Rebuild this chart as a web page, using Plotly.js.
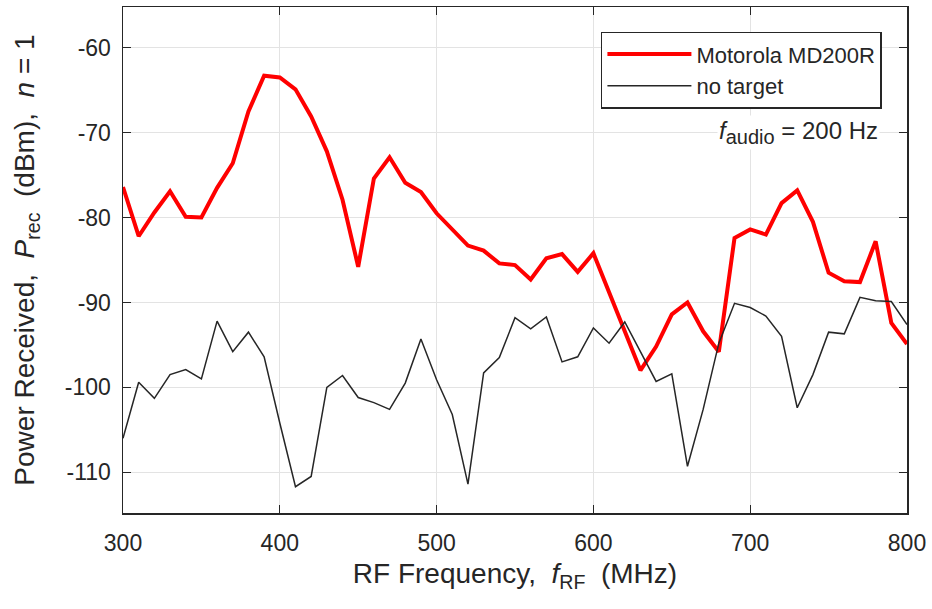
<!DOCTYPE html>
<html>
<head>
<meta charset="utf-8">
<script src="https://cdn.plot.ly/plotly-3.0.1.min.js"></script>
<style>html,body{margin:0;padding:0;background:#fff;}#chart{width:932px;height:609px;}</style>
</head>
<body>
<div id="chart"></div>
<script>
const freqMHz = [300,310,320,330,340,350,360,370,380,390,400,410,420,430,440,450,460,470,480,490,500,510,520,530,540,550,560,570,580,590,600,610,620,630,640,650,660,670,680,690,700,710,720,730,740,750,760,770,780,790,800];
const motorolaDbm = [-76.4,-82.2,-79.4,-76.9,-79.9,-80.0,-76.5,-73.6,-67.5,-63.3,-63.5,-64.9,-68.1,-72.2,-77.9,-85.8,-75.4,-72.9,-75.9,-77.0,-79.5,-81.4,-83.3,-83.9,-85.4,-85.6,-87.3,-84.8,-84.3,-86.4,-84.2,-88.8,-93.4,-98.0,-95.2,-91.4,-90.0,-93.4,-95.8,-82.4,-81.4,-82.0,-78.3,-76.8,-80.5,-86.5,-87.5,-87.6,-82.8,-92.4,-94.9];
const noTargetDbm = [-106.0,-99.4,-101.3,-98.5,-97.9,-99.0,-92.2,-95.8,-93.5,-96.4,-104.2,-111.7,-110.5,-100.0,-98.6,-101.2,-101.8,-102.6,-99.5,-94.3,-99.1,-103.2,-111.4,-98.3,-96.5,-91.8,-93.1,-91.7,-97.0,-96.4,-93.0,-94.8,-92.3,-95.8,-99.3,-98.4,-109.3,-102.6,-94.8,-90.1,-90.6,-91.6,-94.0,-102.4,-98.5,-93.5,-93.7,-89.4,-89.8,-89.9,-92.6];
const seriesNames = ["Motorola MD200R", "no target"];
const xTickVals = [300,400,500,600,700,800];
const xTickText = ["300","400","500","600","700","800"];
const yTickVals = [-110,-100,-90,-80,-70,-60];
const yTickText = ["-110","-100","-90","-80","-70","-60"];

const axisColor = '#262626';
const fontFam = 'Liberation Sans, Arial, Helvetica, sans-serif';

const traces = [
  {x: freqMHz, y: motorolaDbm, name: seriesNames[0], type: 'scatter', mode: 'lines',
   line: {color: '#ff0000', width: 4}},
  {x: freqMHz, y: noTargetDbm, name: seriesNames[1], type: 'scatter', mode: 'lines',
   line: {color: '#262626', width: 1.5}}
];

const layout = {
  width: 932, height: 609,
  margin: {l: 123, r: 25, t: 7, b: 96},
  paper_bgcolor: '#ffffff', plot_bgcolor: '#ffffff',
  font: {family: fontFam, color: axisColor, size: 23},
  showlegend: true,
  legend: {x: 0.968, xanchor: 'right', y: 0.951, yanchor: 'top',
    bordercolor: axisColor, borderwidth: 1.5, bgcolor: '#ffffff',
    font: {size: 22, color: axisColor}, itemwidth: 84, tracegroupgap: 0},
  xaxis: {range: [300, 800], tickvals: xTickVals, ticktext: xTickText, ticks: 'inside', ticklen: 8, tickcolor: axisColor,
    showline: true, linecolor: axisColor, linewidth: 1.5, mirror: 'ticks',
    showgrid: true, gridcolor: '#e3e3e3', gridwidth: 1, zeroline: false,
    ticklabelstandoff: 9,
    tickfont: {size: 23, color: axisColor},
    title: {text: 'RF Frequency,  <i>f</i><sub>RF</sub>  (MHz)', font: {size: 28, color: axisColor}, standoff: 8}},
  yaxis: {range: [-114.8, -55.2], tickvals: yTickVals, ticktext: yTickText, ticks: 'inside', ticklen: 8, tickcolor: axisColor,
    showline: true, linecolor: axisColor, linewidth: 1.5, mirror: 'ticks',
    showgrid: true, gridcolor: '#e3e3e3', gridwidth: 1, zeroline: false,
    ticklabelstandoff: 6,
    tickfont: {size: 23, color: axisColor},
    title: {text: 'Power Received,  <i>P</i><sub>rec</sub>  (dBm),  <i>n</i> = 1', font: {size: 28, color: axisColor}, standoff: 22}},
  annotations: [
    {xref: 'paper', yref: 'y', x: 0.966, y: -70, xanchor: 'right', yanchor: 'middle', showarrow: false,
     text: '<i>f</i><sub><span style="font-size:20px">audio</span></sub> = 200 Hz', bgcolor: '#ffffff', font: {size: 24, color: axisColor}}
  ]
};

Plotly.newPlot('chart', traces, layout, {displayModeBar: false, staticPlot: true});
</script>
</body>
</html>
